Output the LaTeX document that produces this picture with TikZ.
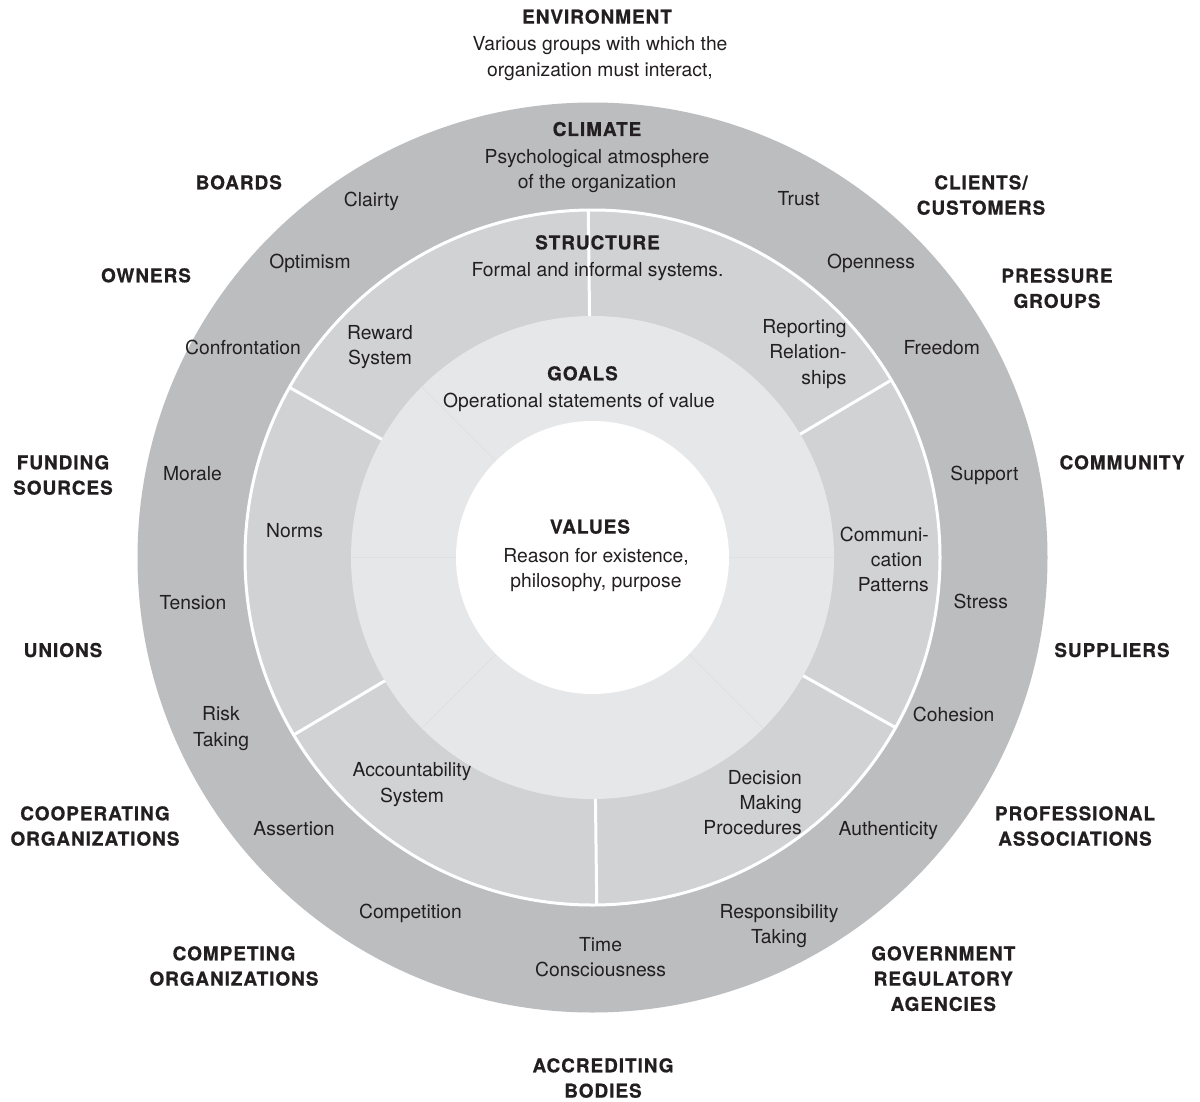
\documentclass[tikz,border=0pt]{standalone}
\usepackage{fontspec}
\setmainfont{TeX Gyre Heros}
\newfontfamily\lblfont[LetterSpace=5,BoldFeatures={FakeBold=0.6}]{TeX Gyre Heros}
\definecolor{ink}{RGB}{35,31,32}
\definecolor{climatecol}{RGB}{188,189,191}
\definecolor{structcol}{RGB}{209,210,212}
\definecolor{goalscol}{RGB}{230,231,232}
\definecolor{goalsline}{RGB}{223,224,226}
\begin{document}
\begin{tikzpicture}[x=1pt,y=-1pt,
  body/.style={font=\fontsize{19.3}{25.3}\selectfont, text=ink, inner sep=0pt, align=center, anchor=north},
  bodyr/.style={body, align=right, anchor=north east},
  lbl/.style={font={\lblfont\bfseries\fontsize{19}{25.3}\selectfont}, text=ink, inner sep=0pt, align=center, anchor=north},
  divider/.style={white, line width=3pt},
  faint/.style={goalsline, line width=0.8pt}]
\useasboundingbox[fill=white] (0,0) rectangle (1200,1101);
\coordinate (C) at (592.5,557.5);
% rings
\fill[climatecol] (C) circle[radius=455pt];
\fill[structcol] (C) circle[radius=347.5pt];
\draw[divider] (C) circle[radius=347.5pt];
\fill[goalscol] (C) circle[radius=241.5pt];
\foreach \a in {0,135,180,225,315}
  \draw[faint] (C) ++(\a:136.5pt) -- ++(\a:105pt);
\fill[white] (C) circle[radius=136.5pt];
\foreach \a in {30.7,90.7,150.7,210.7,270.7,330.7}
  \draw[divider] (C) ++(\a:241.5pt) -- ++(\a:106pt);
% environment
\node[lbl] (env) at (597,9.3) {ENVIRONMENT};
\node[body] (envdesc) at (600,36.5) {Various groups with which the\\organization must interact,};
\node[lbl] (boards) at (238.8,175) {BOARDS};
\node[lbl] (clients) at (981,175) {CLIENTS/\\CUSTOMERS};
\node[lbl] (owners) at (146,268) {OWNERS};
\node[lbl] (pressure) at (1057,268.3) {PRESSURE\\GROUPS};
\node[lbl] (funding) at (63,455) {FUNDING\\SOURCES};
\node[lbl] (community) at (1122,455) {COMMUNITY};
\node[lbl] (unions) at (63,642.7) {UNIONS};
\node[lbl] (suppliers) at (1112,642.7) {SUPPLIERS};
\node[lbl] (cooperating) at (95,806) {COOPERATING\\ORGANIZATIONS};
\node[lbl] (professional) at (1075,806) {PROFESSIONAL\\ASSOCIATIONS};
\node[lbl] (competing) at (234,946) {COMPETING\\ORGANIZATIONS};
\node[lbl] (government) at (943.3,946) {GOVERNMENT\\REGULATORY\\AGENCIES};
\node[lbl] (accrediting) at (603,1058) {ACCREDITING\\BODIES};
% climate
\node[lbl] (climate) at (597,121.7) {CLIMATE};
\node[body] (climdesc) at (597,149) {Psychological atmosphere\\of the organization};
\node[body] (clarity) at (371.5,191.7) {Clairty};
\node[body] (trust) at (798.7,191) {Trust};
\node[body] (optimism) at (310,254) {Optimism};
\node[body] (openness) at (871,254) {Openness};
\node[body] (confrontation) at (243,340) {Confrontation};
\node[body] (freedom) at (941.7,340) {Freedom};
\node[body] (morale) at (192.5,466.7) {Morale};
\node[body] (support) at (984.5,466) {Support};
\node[body] (tension) at (193,595) {Tension};
\node[body] (stress) at (980.8,594.3) {Stress};
\node[body] (risk) at (221,706.7) {Risk\\Taking};
\node[body] (cohesion) at (953.7,706.7) {Cohesion};
\node[body] (assertion) at (294,821.7) {Assertion};
\node[body] (authenticity) at (888.3,821.7) {Authenticity};
\node[body] (competition) at (410.5,904) {Competition};
\node[body] (responsibility) at (779,904) {Responsibility\\Taking};
\node[body] (time) at (600.6,937.3) {Time\\Consciousness};
% structure
\node[lbl] (structure) at (597.5,235) {STRUCTURE};
\node[body] (structdesc) at (597.5,261.7) {Formal and informal systems.};
\node[body] (reward) at (380,325) {Reward\\System};
\node[bodyr] (reporting) at (846.7,319.3) {Reporting\\Relation-\\ships};
\node[body] (norms) at (294.5,523.3) {Norms};
\node[bodyr] (communication) at (929,526.7) {Communi-\\cation\hphantom{-}\\Patterns};
\node[body] (accountability) at (412,762.7) {Accountability\\System};
\node[bodyr] (decision) at (802,770) {Decision\\Making\\Procedures};
% goals and values
\node[lbl] (goals) at (582.5,366) {GOALS};
\node[body] (goalsdesc) at (579,392.7) {Operational statements of value};
\node[lbl] (values) at (590,519.3) {VALUES};
\node[body] (valuesdesc) at (596,548.3) {Reason for existence,\\philosophy, purpose};
\end{tikzpicture}
\end{document}
